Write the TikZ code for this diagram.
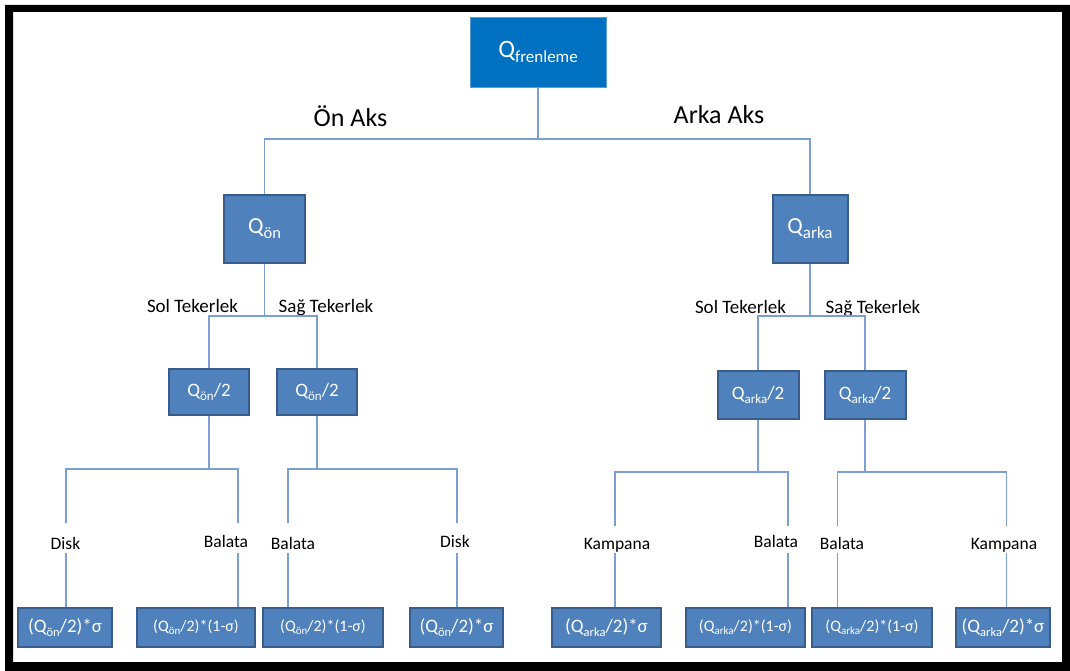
\documentclass[tikz,border=0pt]{standalone}
\usepackage{fontspec}
\setmainfont{Carlito}
\usepackage{graphicx}

\definecolor{topblue}{HTML}{0070C0}
\definecolor{topedge}{HTML}{5B9BD5}
\definecolor{boxblue}{HTML}{4F81BD}
\definecolor{boxedge}{HTML}{385D8A}
\definecolor{linec}{HTML}{7B9FD3}

% lowered, smaller text used as a subscript: drop, size, text
\newcommand\lowtext[3]{\raisebox{-#1}{\fontsize{#2}{#2}\selectfont #3}}
\newcommand\fsz[1]{\fontsize{#1}{#1}\selectfont}

\tikzset{
  conn/.style={draw=linec, line width=1.2pt},
  topbox/.style={fill=topblue, draw=topedge, line width=0.8pt, inner sep=0pt,
    minimum width=136pt, minimum height=70pt, text=white},
  box/.style={fill=boxblue, draw=boxedge, line width=2pt, inner sep=0pt, text=white},
  bigbox/.style={box, minimum height=68pt},
  midbox/.style={box, minimum width=80pt},
  leafbox/.style={box, minimum height=39pt},
  axle/.style={inner sep=0pt, anchor=base, font=\fsz{26}},
  wheel/.style={inner sep=0pt, anchor=base, font=\fsz{19}},
  part/.style={inner sep=0pt, anchor=base, font=\fsz{17.5}},
}

\begin{document}
\begin{tikzpicture}[x=1pt, y=-1pt]
% page and frame
\useasboundingbox (0,0) rectangle (1070,671);
\fill[white] (0,0) rectangle (1070,671);
\fill[black, even odd rule] (5,5) rectangle (1070,671) (13,12) rectangle (1062,662);

% root
\node[topbox] (top) at (538,52) {\fsz{25}Q\lowtext{5pt}{17}{frenleme}};

% axles
\node[bigbox, minimum width=81pt] (qon) at (264.5,229) {\fsz{23}Q\lowtext{5pt}{16.5}{ön}};
\node[bigbox, minimum width=75pt] (qarka) at (810,229) {\fsz{23}Q\lowtext{5pt}{17}{arka}};

\node[axle] (lon) at (350.5,127) {Ön Aks};
\node[axle] (lark) at (719,124) {Arka Aks};

% wheels
\node[midbox, minimum height=46pt] (qon2a) at (209,392) {\fsz{19}Q\lowtext{4pt}{13}{ön}/2};
\node[midbox, minimum height=46pt] (qon2b) at (317,392) {\fsz{19}Q\lowtext{4pt}{13}{ön}/2};
\node[midbox, minimum height=48pt, minimum width=81pt] (qarka2a) at (758,395) {\fsz{19}Q\lowtext{4pt}{13}{arka}/2};
\node[midbox, minimum height=48pt, minimum width=81pt] (qarka2b) at (865,395) {\fsz{19}Q\lowtext{4pt}{13}{arka}/2};

\node[wheel] (sol1) at (192.5,312) {Sol Tekerlek};
\node[wheel] (sag1) at (326,312) {Sağ Tekerlek};
\node[wheel] (sol2) at (740.5,313) {Sol Tekerlek};
\node[wheel] (sag2) at (873,313) {Sağ Tekerlek};

% brake parts
\node[leafbox, minimum width=94pt] (b1) at (65,627.5) {\fsz{19}(Q\lowtext{3.5pt}{12.5}{ön}/2)*σ};
\node[leafbox, minimum width=118pt] (b2) at (196,627.5) {\fsz{16}(Q\lowtext{3pt}{11}{ön}/2)*(1-σ)};
\node[leafbox, minimum width=120pt] (b3) at (323,627.5) {\fsz{16}(Q\lowtext{3pt}{11}{ön}/2)*(1-σ)};
\node[leafbox, minimum width=93pt] (b4) at (456.5,627.5) {\fsz{19}(Q\lowtext{3.5pt}{12.5}{ön}/2)*σ};
\node[leafbox, minimum width=109pt] (b5) at (606.5,627.5) {\fsz{19}(Q\lowtext{3.5pt}{12.5}{arka}/2)*σ};
\node[leafbox, minimum width=119pt] (b6) at (745.5,627.5) {\fsz{16}(Q\lowtext{3pt}{11}{arka}/2)*(1-σ)};
\node[leafbox, minimum width=120pt] (b7) at (872,627.5) {\fsz{16}(Q\lowtext{3pt}{11}{arka}/2)*(1-σ)};
\node[leafbox, minimum width=94pt] (b8) at (1003,627.5) {\fsz{19}(Q\lowtext{3.5pt}{12.5}{arka}/2)*σ};

\node[part] (p1) at (65.5,549) {Disk};
\node[part] (p2) at (226,547) {Balata};
\node[part] (p3) at (293,549) {Balata};
\node[part] (p4) at (455,547) {Disk};
\node[part] (p5) at (617,549) {Kampana};
\node[part] (p6) at (776,547) {Balata};
\node[part] (p7) at (842,549) {Balata};
\node[part] (p8) at (1004,549) {Kampana};

% junction points of the tree
\coordinate (j0) at (538,139);
\coordinate (j1) at (264.5,316);
\coordinate (j2) at (810,316);
\coordinate (k1) at (209,469);
\coordinate (k2) at (317,469);
\coordinate (k3) at (758,472);
\coordinate (k4) at (865,472);

% upper ends of the part branches
\coordinate (u1) at (66,523);
\coordinate (u2) at (238,523);
\coordinate (u3) at (288,523);
\coordinate (u4) at (457,523);
\coordinate (u5) at (615,526);
\coordinate (u6) at (788,526);
\coordinate (u7) at (837.5,526);
\coordinate (u8) at (1006.5,526);

% lower segments start just under the part names
\coordinate (d1) at (66,553);
\coordinate (d2) at (238,553);
\coordinate (d3) at (288,553);
\coordinate (d4) at (457,553);
\coordinate (d5) at (615,553);
\coordinate (d6) at (788,553);
\coordinate (d7) at (837.5,553);
\coordinate (d8) at (1006.5,553);

% connectors
\draw[conn] (top.south) -- (j0);
\draw[conn] (qon.north) |- (j0) -| (qarka.north);

\draw[conn] (qon.south) -- (j1);
\draw[conn] (qon2a.north) |- (j1) -| (qon2b.north);
\draw[conn] (qarka.south) -- (j2);
\draw[conn] (qarka2a.north) |- (j2) -| (qarka2b.north);

\draw[conn] (qon2a.south) -- (k1);
\draw[conn] (u1) |- (k1) -| (u2);
\draw[conn] (qon2b.south) -- (k2);
\draw[conn] (u3) |- (k2) -| (u4);
\draw[conn] (qarka2a.south) -- (k3);
\draw[conn] (u5) |- (k3) -| (u6);
\draw[conn] (qarka2b.south) -- (k4);
\draw[conn] (u7) |- (k4) -| (u8);

\draw[conn] (d1) -- (d1 |- b1.north);
\draw[conn] (d2) -- (d2 |- b2.north);
\draw[conn] (d3) -- (d3 |- b3.north);
\draw[conn] (d4) -- (d4 |- b4.north);
\draw[conn] (d5) -- (d5 |- b5.north);
\draw[conn] (d6) -- (d6 |- b6.north);
\draw[conn] (d7) -- (d7 |- b7.north);
\draw[conn] (d8) -- (d8 |- b8.north);
\end{tikzpicture}
\end{document}
